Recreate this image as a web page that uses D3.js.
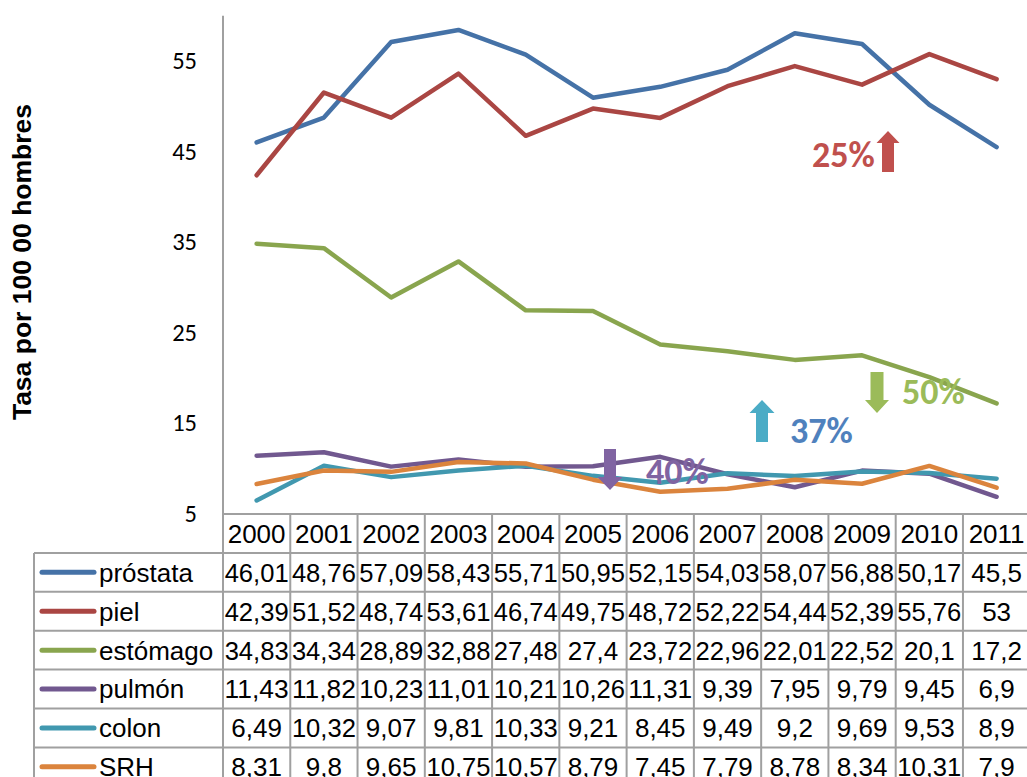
<!DOCTYPE html>
<html><head><meta charset="utf-8">
<script src="https://cdn.jsdelivr.net/npm/d3@7"></script>
<style>
html,body{margin:0;padding:0;background:#fff;}
svg{display:block;}
</style></head>
<body>
<svg id="chart" width="1027" height="777"></svg>
<script>
const years = ["2000","2001","2002","2003","2004","2005","2006","2007","2008","2009","2010","2011"];
const seriesNames = ["próstata","piel","estómago","pulmón","colon","SRH"];
const prostata = [46.01,48.76,57.09,58.43,55.71,50.95,52.15,54.03,58.07,56.88,50.17,45.5];
const piel = [42.39,51.52,48.74,53.61,46.74,49.75,48.72,52.22,54.44,52.39,55.76,53];
const estomago = [34.83,34.34,28.89,32.88,27.48,27.4,23.72,22.96,22.01,22.52,20.1,17.2];
const pulmon = [11.43,11.82,10.23,11.01,10.21,10.26,11.31,9.39,7.95,9.79,9.45,6.9];
const colon = [6.49,10.32,9.07,9.81,10.33,9.21,8.45,9.49,9.2,9.69,9.53,8.9];
const srh = [8.31,9.8,9.65,10.75,10.57,8.79,7.45,7.79,8.78,8.34,10.31,7.9];
const yTicks = [5,15,25,35,45,55];
const yTitle = "Tasa por 100 00 hombres";
const annotations = [
  {text:"25%", dir:"up"}, {text:"50%", dir:"down"}, {text:"37%", dir:"up"}, {text:"40%", dir:"down"}
];

const seriesValues = [prostata, piel, estomago, pulmon, colon, srh];
const colors = ["#4572A7","#AA4643","#89A54E","#71588F","#4198AF","#DB843D"];

const svg = d3.select("#chart");
const colW = 67.27;
const x = d3.scaleBand().domain(years).range([223, 223 + 12*colW]).paddingInner(0).paddingOuter(0);
const y = d3.scaleLinear().domain([5,60]).range([514, 15.7]);
const xc = d => x(d) + x.bandwidth()/2;

const gridColor = "#a0a0a0";
const tickFont = "Carlito, Lato, sans-serif";
const tableFont = "'Liberation Sans', Arial, sans-serif";

// y axis line
svg.append("line").attr("x1",223).attr("x2",223).attr("y1",y(60)).attr("y2",y(5))
  .attr("stroke",gridColor).attr("stroke-width",2);

// y tick labels
svg.append("g").selectAll("text").data(yTicks).join("text")
  .attr("x",197).attr("y",d=>y(d)).attr("dy","0.33em")
  .attr("text-anchor","end").attr("font-family",tickFont).attr("font-size",24.5).attr("fill","#000")
  .text(d=>d);

// y title
svg.append("text").attr("transform","translate(31,262) rotate(-90)")
  .attr("text-anchor","middle").attr("font-family",tableFont).attr("font-weight","bold")
  .attr("font-size",26.5).attr("fill","#000").text(yTitle);

// lines
const line = d3.line().x((d,i)=>xc(years[i])).y(d=>y(d));
svg.append("g").selectAll("path").data(seriesValues).join("path")
  .attr("d",d=>line(d)).attr("fill","none")
  .attr("stroke",(d,i)=>colors[i]).attr("stroke-width",4.5)
  .attr("stroke-linecap","round").attr("stroke-linejoin","round");

// annotations
function arrow(g, cx, top, bottom, shaftW, headW, headH, dir, color){
  let pts;
  if(dir==="up"){
    pts = [[cx-shaftW/2,bottom],[cx-shaftW/2,top+headH],[cx-headW/2,top+headH],[cx,top],
           [cx+headW/2,top+headH],[cx+shaftW/2,top+headH],[cx+shaftW/2,bottom]];
  } else {
    pts = [[cx-shaftW/2,top],[cx-shaftW/2,bottom-headH],[cx-headW/2,bottom-headH],[cx,bottom],
           [cx+headW/2,bottom-headH],[cx+shaftW/2,bottom-headH],[cx+shaftW/2,top]];
  }
  g.append("polygon").attr("points",pts.map(p=>p.join(",")).join(" ")).attr("fill",color);
}
const ag = svg.append("g");
const annFont = "Carlito, Lato, sans-serif";
function annText(t, xx, yy, color){
  ag.append("text").attr("x",xx).attr("y",yy).attr("font-family",annFont).attr("font-weight","bold")
    .attr("font-size",36).attr("fill",color).text(t);
}
// 50% (green, down)
arrow(ag, 877, 372, 413, 13, 24, 13, "down", "#9BBB59");
annText(annotations[1].text, 902, 404, "#9BBB59");
// 37% (cyan arrow up, blue text)
arrow(ag, 762, 400, 442, 12, 25, 13, "up", "#4BACC6");
annText(annotations[2].text, 790, 443, "#4F81BD");
// 40% purple
arrow(ag, 610, 449, 490, 12, 25, 13, "down", "#8064A2");
annText(annotations[3].text, 646, 484, "#8064A2");
// 25% red
annText(annotations[0].text, 812, 167, "#C0504D");
arrow(ag, 888, 131, 172, 12, 23, 12, "up", "#C0504D");

// table
const tg = svg.append("g");
const rowTop = 514, rowH = 38.9;
const tableRight = 223 + 12*colW;
tg.append("line").attr("x1",223).attr("x2",tableRight).attr("y1",rowTop).attr("y2",rowTop)
  .attr("stroke",gridColor).attr("stroke-width",2);
for(let r=1;r<=seriesNames.length+1;r++){
  tg.append("line").attr("x1",34).attr("x2",tableRight).attr("y1",rowTop+r*rowH).attr("y2",rowTop+r*rowH)
    .attr("stroke",gridColor).attr("stroke-width",2);
}
tg.selectAll("line.v").data(years).join("line").attr("class","v")
  .attr("x1",d=>x(d)+colW).attr("x2",d=>x(d)+colW).attr("y1",rowTop).attr("y2",rowTop+7*rowH)
  .attr("stroke",gridColor).attr("stroke-width",2);
tg.append("line").attr("x1",223).attr("x2",223).attr("y1",rowTop).attr("y2",rowTop+7*rowH)
  .attr("stroke",gridColor).attr("stroke-width",2);
tg.append("line").attr("x1",34).attr("x2",34).attr("y1",rowTop+rowH).attr("y2",rowTop+7*rowH)
  .attr("stroke",gridColor).attr("stroke-width",2);

tg.selectAll("text.h").data(years).join("text").attr("class","h")
  .attr("x",d=>xc(d)).attr("y",rowTop+rowH/2).attr("dy","0.36em").attr("text-anchor","middle")
  .attr("font-family",tableFont).attr("font-size",26).attr("fill","#000").text(d=>d);

const fmt = v => String(v).replace(".",",");
seriesNames.forEach((name,i)=>{
  const cy = rowTop + (i+1)*rowH + rowH/2;
  tg.append("line").attr("x1",42).attr("x2",94).attr("y1",cy).attr("y2",cy)
    .attr("stroke",colors[i]).attr("stroke-width",5).attr("stroke-linecap","round");
  tg.append("text").attr("x",99).attr("y",cy).attr("dy","0.36em").attr("font-family",tableFont)
    .attr("font-size",26).attr("fill","#000").text(name);
  tg.selectAll(null).data(seriesValues[i]).join("text")
    .attr("x",(d,j)=>xc(years[j])).attr("y",cy).attr("dy","0.36em").attr("text-anchor","middle")
    .attr("font-family",tableFont).attr("font-size",26).attr("fill","#000")
    .attr("textLength",d=>fmt(d).length>=5?64:null).attr("lengthAdjust","spacingAndGlyphs")
    .text(d=>fmt(d));
});
</script>
</body></html>
